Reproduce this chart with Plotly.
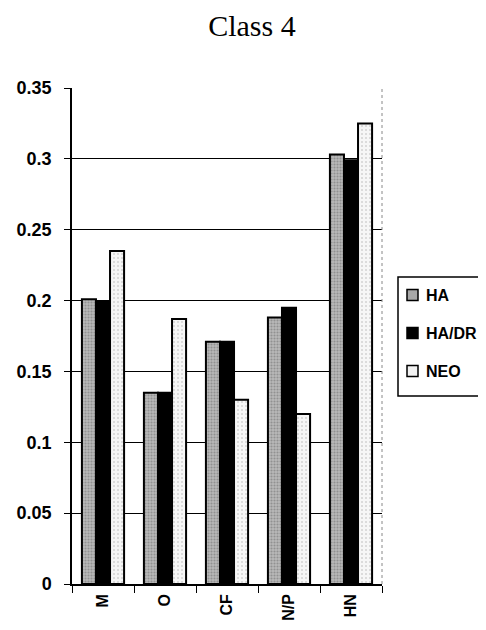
import plotly.graph_objects as go

categories = ["M", "O", "CF", "N/P", "HN"]
ha = [0.201, 0.135, 0.171, 0.188, 0.303]
ha_dr = [0.199, 0.135, 0.171, 0.195, 0.299]
neo = [0.235, 0.187, 0.130, 0.120, 0.325]
series_names = ["HA", "HA/DR", "NEO"]
y_ticks = [0, 0.05, 0.1, 0.15, 0.2, 0.25, 0.3, 0.35]
y_tick_text = ["0", "0.05", "0.1", "0.15", "0.2", "0.25", "0.3", "0.35"]

W, H = 470, 614
L, R, T, B = 64, 96, 80, 38
PW, PH = W - L - R, H - T - B

fills = ["#a8a8a8", "black", "#f2f2f2"]
patterns = [
    dict(shape=".", fgcolor="#6a6a6a", bgcolor="#b8b8b8", size=3, solidity=0.4),
    None,
    dict(shape=".", fgcolor="#b0b0b0", bgcolor="#f6f6f6", size=4, solidity=0.2),
]
series_vals = [ha, ha_dr, neo]

fig = go.Figure()
for name, vals, col, pat in zip(series_names, series_vals, fills, patterns):
    marker = dict(color=col, line=dict(color="black", width=2))
    if pat:
        marker["pattern"] = pat
    fig.add_trace(go.Bar(x=categories, y=vals, name=name, marker=marker, showlegend=False))

def px(x):
    return (x - L) / PW

def py(y):
    return (H - B - y) / PH

# legend drawn by hand so that it runs off the right edge as in the original
shapes = [
    dict(type="line", xref="paper", yref="paper", x0=1, x1=1, y0=0, y1=1,
         line=dict(color="#888888", width=1, dash="dot")),
    dict(type="rect", xref="paper", yref="paper", x0=px(390), x1=px(490), y0=py(269), y1=py(388),
         line=dict(color="black", width=1.5), fillcolor="white", layer="above"),
]
annotations = []
row_y = [287, 325, 363]
for name, col, yy in zip(series_names, fills, row_y):
    shapes.append(dict(type="rect", xref="paper", yref="paper",
                       x0=px(399), x1=px(410), y0=py(yy - 5.5), y1=py(yy + 5.5),
                       line=dict(color="black", width=1.5), fillcolor=col, layer="above"))
    annotations.append(dict(text=name, xref="paper", yref="paper", x=px(416), y=py(yy),
                            xanchor="left", yanchor="middle", showarrow=False,
                            font=dict(family="Liberation Sans", size=16, color="black", weight="bold")))

fig.update_layout(
    width=W, height=H,
    paper_bgcolor="white", plot_bgcolor="white",
    barmode="group", bargap=0.32, bargroupgap=0,
    margin=dict(l=L, r=R, t=T, b=B, autoexpand=False),
    title=dict(text="Class 4", x=0.519, xanchor="center", xref="container", y=0.972, yanchor="middle",
               font=dict(family="Liberation Serif", size=30, color="black")),
    font=dict(family="Liberation Sans", color="black"),
    showlegend=False,
    shapes=shapes,
    annotations=annotations,
)
fig.update_xaxes(
    showline=True, linecolor="black", linewidth=1.5,
    ticks="outside", tickson="boundaries", ticklen=7, tickcolor="black",
    tickangle=-90, tickfont=dict(family="Liberation Sans", size=16, color="black", weight="bold"),
    ticklabelstandoff=2, automargin=False,
)
fig.update_yaxes(
    range=[0, 0.35], tickvals=y_ticks, ticktext=y_tick_text,
    showline=True, linecolor="black", linewidth=1.5,
    ticks="outside", ticklen=6, tickcolor="black",
    showgrid=True, gridcolor="black", gridwidth=1,
    tickfont=dict(family="Liberation Sans", size=18, color="black", weight="bold"),
    ticklabelstandoff=9, automargin=False, zeroline=False,
)

fig.write_html("out.html")
